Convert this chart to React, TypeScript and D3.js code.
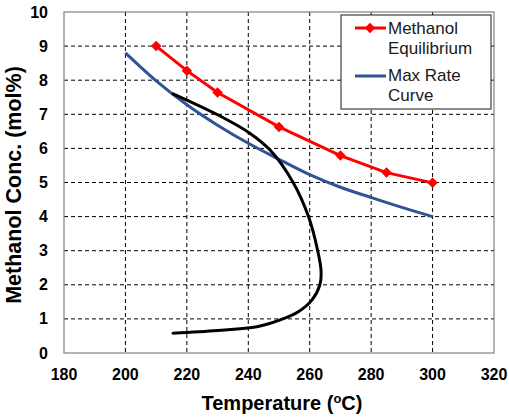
import React from "react";
import * as d3 from "d3";

const xTicks = [180, 200, 220, 240, 260, 280, 300, 320];
const yTicks = [0, 1, 2, 3, 4, 5, 6, 7, 8, 9, 10];

const eqTemp = [210, 220, 230, 250, 270, 285, 300];
const eqConc = [9.0, 8.28, 7.64, 6.63, 5.79, 5.29, 4.99];

const maxTemp = [200, 210, 220, 230, 240, 250, 260, 270, 280, 290, 300];
const maxConc = [8.8, 7.98, 7.28, 6.68, 6.15, 5.68, 5.23, 4.86, 4.56, 4.27, 4.0];

const pathTemp = [215.5, 230, 242.8, 250.4, 256.3, 260.7, 263.3, 263.7, 262.6, 259.6, 254.6, 247.1, 240.6, 230.8, 215.5];
const pathConc = [0.58, 0.66, 0.77, 0.97, 1.21, 1.55, 2.0, 2.4, 3.0, 4.0, 5.0, 5.95, 6.44, 6.95, 7.6];

const W = 509, H = 417;
const L = 64, R = 494, T = 12, B = 353;

export default function App() {
  const x = d3.scaleLinear().domain([180, 320]).range([L, R]);
  const y = d3.scaleLinear().domain([0, 10]).range([B, T]);

  const eqData = eqTemp.map((t, i) => [t, eqConc[i]] as [number, number]);
  const maxData = maxTemp.map((t, i) => [t, maxConc[i]] as [number, number]);
  const pathData = pathTemp.map((t, i) => [t, pathConc[i]] as [number, number]);

  const straight = d3.line<[number, number]>().x(d => x(d[0])).y(d => y(d[1]));
  const smooth = d3.line<[number, number]>().x(d => x(d[0])).y(d => y(d[1])).curve(d3.curveCatmullRom.alpha(0.5));
  const diamond = d3.symbol().type(d3.symbolDiamond2).size(70)();

  const font = "'Liberation Sans', Arial, sans-serif";

  return (
    <svg width={W} height={H} style={{ position: "absolute", left: 0, top: 0, background: "#fff" }} fontFamily={font}>
      {/* grid */}
      {xTicks.slice(1, -1).map(t => (
        <line key={"gx" + t} x1={x(t)} x2={x(t)} y1={T} y2={B} stroke="#000" strokeWidth={1} strokeDasharray="4,3" />
      ))}
      {yTicks.slice(1, -1).map(t => (
        <line key={"gy" + t} x1={L} x2={R} y1={y(t)} y2={y(t)} stroke="#000" strokeWidth={1} strokeDasharray="4,3" />
      ))}
      <rect x={L} y={T} width={R - L} height={B - T} fill="none" stroke="#808080" strokeWidth={1.2} />

      {/* tick labels */}
      {xTicks.map(t => (
        <text key={"tx" + t} x={x(t)} y={380} textAnchor="middle" fontSize={16} fontWeight="bold" fill="#000">{t}</text>
      ))}
      {yTicks.map(t => (
        <text key={"ty" + t} x={48} y={y(t) + 5.5} textAnchor="end" fontSize={16} fontWeight="bold" fill="#000">{t}</text>
      ))}

      {/* series */}
      <path d={smooth(maxData) || ""} fill="none" stroke="#2F5496" strokeWidth={3} />
      <path d={smooth(pathData) || ""} fill="none" stroke="#000" strokeWidth={3} strokeLinecap="round" />
      <path d={straight(eqData) || ""} fill="none" stroke="#FF0000" strokeWidth={3} />
      {eqData.map((d, i) => (
        <path key={"m" + i} d={diamond || ""} transform={`translate(${x(d[0])},${y(d[1])})`} fill="#FF0000" />
      ))}

      {/* axis titles */}
      <text x={(L + R) / 2 + 3} y={410} textAnchor="middle" fontSize={20} fontWeight="bold" fill="#000">
        Temperature (<tspan fontSize={13} dy={-7}>o</tspan><tspan dy={7}>C)</tspan>
      </text>
      <text transform={`translate(21,185) rotate(-90)`} textAnchor="middle" fontSize={21.5} fontWeight="bold" fill="#000">
        Methanol Conc. (mol%)
      </text>

      {/* legend */}
      <rect x={341} y={15} width={150} height={94} fill="#fff" stroke="#404040" strokeWidth={1.2} />
      <line x1={355} x2={386} y1={28} y2={28} stroke="#FF0000" strokeWidth={3} />
      <path d={diamond || ""} transform="translate(370,28)" fill="#FF0000" />
      <text x={388} y={34} fontSize={17} fill="#1a1a1a">Methanol</text>
      <text x={388} y={54} fontSize={17} fill="#1a1a1a">Equilibrium</text>
      <line x1={355} x2={386} y1={76} y2={76} stroke="#2F5496" strokeWidth={3} />
      <text x={388} y={81} fontSize={17} fill="#1a1a1a">Max Rate</text>
      <text x={388} y={101} fontSize={17} fill="#1a1a1a">Curve</text>
    </svg>
  );
}
